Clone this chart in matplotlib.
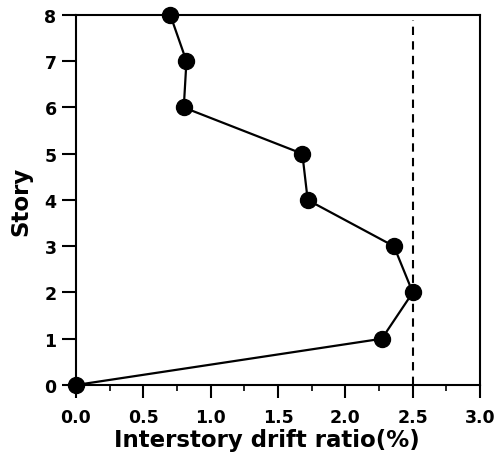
import matplotlib
matplotlib.use("Agg")
import matplotlib.pyplot as plt
from matplotlib.ticker import MultipleLocator

stories = [0, 1, 2, 3, 4, 5, 6, 7, 8]
drift = [0.0, 2.27, 2.50, 2.36, 1.72, 1.68, 0.80, 0.82, 0.70]
limit = 2.5
limit_top = 7.9

plt.rcParams['font.family'] = ['DejaVu Sans']
plt.rcParams['font.weight'] = 'bold'

fig = plt.figure(figsize=(4.95, 4.56), dpi=100)
ax = fig.add_axes([0.1535, 0.1535, 0.8165, 0.8115])

ax.plot(drift, stories, color='black', lw=1.6, marker='o', markersize=11.5,
        clip_on=False, zorder=3)
ax.vlines(limit, 0, limit_top, colors='black', linestyles=(0, (4, 3)), lw=1.5)

ax.set_xlim(0, 3.0)
ax.set_ylim(0, 8)
ax.xaxis.set_major_locator(MultipleLocator(0.5))
ax.xaxis.set_minor_locator(MultipleLocator(0.25))
ax.yaxis.set_major_locator(MultipleLocator(1))
ax.xaxis.set_major_formatter(plt.FuncFormatter(lambda v, p: f"{v:.1f}"))

ax.tick_params(axis='x', which='major', direction='out', length=9.5, width=1.5,
               labelsize=12.5, pad=7)
ax.tick_params(axis='y', which='major', direction='out', length=10, width=1.5,
               labelsize=12.5, pad=4)
ax.tick_params(axis='x', which='minor', direction='out', length=4.5, width=1.2)
for s in ax.spines.values():
    s.set_linewidth(1.5)

ax.set_xlabel('Interstory drift ratio(%)', fontsize=16.5, fontweight='bold')
ax.xaxis.set_label_coords(0.473, -0.115)
ax.set_ylabel('Story', fontsize=16.5, fontweight='bold', labelpad=9)

fig.savefig('out.png', dpi=100)
